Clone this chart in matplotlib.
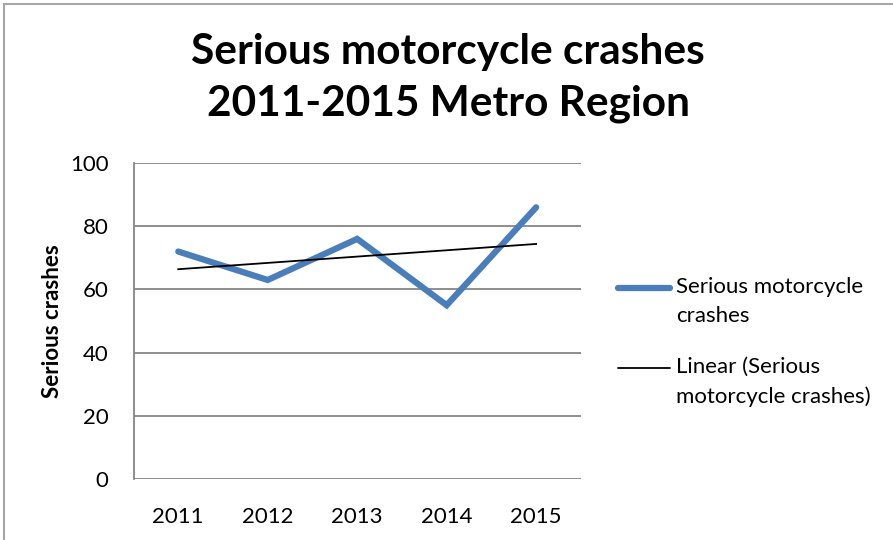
import numpy as np
import matplotlib.pyplot as plt
from matplotlib.lines import Line2D

# --- Datos ---
years = ["2011", "2012", "2013", "2014", "2015"]
crashes = [72, 63, 76, 55, 86]
y_ticks = [0, 20, 40, 60, 80, 100]
series_label = "Serious motorcycle\ncrashes"
trend_label = "Linear (Serious\nmotorcycle crashes)"

plt.rcParams['font.family'] = ['Lato', 'DejaVu Sans']

x = np.arange(len(years))
slope, intercept = np.polyfit(x, crashes, 1)
trend = slope * x + intercept

W, H = 893, 540
fig = plt.figure(figsize=(W / 100, H / 100), dpi=100)
ax = fig.add_axes([0.1495, 0.113, 0.501, 0.585])

blue = "#4a7ebb"
ax.plot(x, crashes, color=blue, lw=4.5, solid_capstyle="round",
        solid_joinstyle="miter", zorder=3)
ax.plot(x, trend, color="black", lw=1.3, zorder=4)

ax.set_xlim(-0.5, 4.5)
ax.set_ylim(0, 100)
ax.set_xticks(x)
ax.set_xticklabels(years)
ax.set_yticks(y_ticks)
ax.yaxis.grid(True, color="#868686", lw=1.3)
ax.set_axisbelow(True)
for s in ["top", "right", "bottom"]:
    ax.spines[s].set_visible(False)
ax.spines["left"].set_color("#868686")
ax.spines["left"].set_linewidth(1.3)
ax.tick_params(axis="both", length=0, labelsize=16)
ax.tick_params(axis="x", pad=20)
ax.tick_params(axis="y", pad=18)
ax.set_ylabel("Serious crashes", fontsize=16, fontweight="bold", labelpad=5)

fig.text(0.502, 0.856, "Serious motorcycle crashes\n2011-2015 Metro Region",
         ha="center", va="center", fontsize=30.5, fontweight="bold", linespacing=1.42)

# Leyenda (a mano, para alinear la linea con la primera fila)
def leyenda(y_px, color, lw, texto):
    yf = 1 - y_px / H
    fig.add_artist(Line2D([618 / W, 670 / W], [yf, yf], color=color, lw=lw,
                          solid_capstyle="round", transform=fig.transFigure))
    fig.text(676 / W, yf + 11 / H, texto, ha="left", va="top", fontsize=16,
             linespacing=1.55)

leyenda(288, blue, 4.5, series_label)
leyenda(368, "black", 1.3, trend_label)

# Borde de la figura
fig.add_artist(Line2D([0.0045, 0.0045], [0, 0.993], color="#a6a6a6", lw=1.5, transform=fig.transFigure))
fig.add_artist(Line2D([0.0045, 1], [0.993, 0.993], color="#a6a6a6", lw=1.5, transform=fig.transFigure))

fig.savefig("out.png", dpi=100)
